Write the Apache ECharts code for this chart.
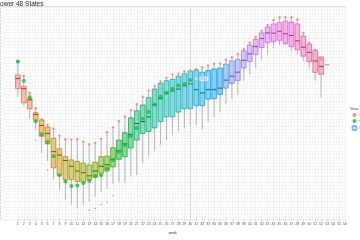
<!DOCTYPE html>
<html><head><meta charset="utf-8">
<script src="https://cdn.jsdelivr.net/npm/echarts@6/dist/echarts.min.js"></script>
<style>html,body{margin:0;padding:0;background:#fff}#c{width:360px;height:240px}</style>
</head><body><div id="c"></div>
<script>
// ---- data (Bcf) ----
const weeks   = [1,2,3,4,5,6,7,8,9,10,11,12,13,14,15,16,17,18,19,20,21,22,23,24,25,26,27,28,29,30,31,32,33,34,35,36,37,38,39,40,41,42,43,44,45,46,47,48,49,50,51,52,53];
const lowW    = [2765,2622,2408,2240,1857,1734,1448,1275,1117,1040,979,1040,1091,1168,1244,1295,1371,1397,1387,1489,1509,1704,1815,1898,1999,2071,2148,2209,2255,2301,2316,2240,2367,2443,2520,2653,2730,2791,3021,3123,3224,3362,3439,3541,3592,3583,3500,3439,3338,3224,3021,2750,3276];
const q1      = [2894,2668,2572,2388,2132,2010,1627,1509,1439,1439,1408,1397,1439,1474,1540,1576,1642,1765,1806,1944,2071,2178,2209,2266,2367,2443,2443,2520,2572,2572,2622,2622,2725,2734,2802,2903,2979,3021,3224,3327,3439,3552,3629,3644,3668,3618,3567,3515,3414,3327,3154,3123,3276];
const median  = [3056,2894,2714,2480,2305,2178,1887,1831,1745,1653,1576,1550,1500,1576,1653,1678,1765,1903,2010,2163,2336,2367,2443,2633,2734,2826,2857,2887,2940,2970,2878,2826,2878,2878,2903,3031,3093,3158,3347,3450,3567,3695,3786,3782,3812,3771,3745,3659,3557,3475,3338,3250,3276];
const q3      = [3113,2929,2734,2511,2393,2281,2102,1933,1806,1754,1730,1704,1673,1719,1806,1815,1949,2071,2189,2428,2541,2633,2750,2887,2979,3021,3041,3093,3132,3174,3194,3158,3184,3209,3224,3286,3338,3362,3500,3592,3684,3786,3878,3929,3950,3975,3959,3929,3736,3607,3506,3403,3276];
const highW   = [3327,3097,2826,2581,2400,2309,2247,2140,2079,2071,2079,2041,2002,2018,2086,2194,2270,2370,2446,2546,2645,2760,2860,2936,3005,3063,3120,3128,3166,3181,3201,3232,3263,3289,3293,3354,3393,3446,3526,3630,3717,3817,3906,3986,4031,4031,4031,3998,3779,3626,3511,3403,3276];
const redPts  = [3327,3097,2826,2581,2405,2315,2255,2143,2086,2076,2086,2045,2005,2025,2091,2198,2275,2373,2449,2551,2648,2765,2863,2939,3010,3067,3123,3132,3170,3185,3204,3235,3266,3292,3296,3358,3396,3449,3531,3633,3721,3822,3909,3990,4036,4036,4036,4001,3782,3629,3515,3373];
const greenWeeks = [1,2,3,4,5,6,7,8,9,10,11,12,13,14,15,16,17,18,19,20,21,22,23,24,25,26,27,28,29,30];
const greenPts   = [3327,3021,2756,2373,2163,2041,1815,1509,1408,1336,1347,1387,1423,1500,1509,1616,1754,1887,1995,2137,2260,2413,2520,2642,2765,2826,2894,2944,2970,3031];
const outWeeks = [4,6,13,14,15,16,17];
const outVals  = [2071,1592,949,979,1040,1080,1183];
const labelWeek = 31;
const labelValue = 3051;
const currentWeek = 30;
const tickLabels = [1,2,3,4,5,6,7,8,9,10,11,12,13,14,15,16,17,18,19,20,21,22,23,24,25,26,27,28,29,30,31,32,33,34,35,36,37,38,39,40,41,42,43,44,45,46,47,48,49,50,51,52,53,54,55,56];

// ---- ggplot-style hue palette ----
function hcl(h, c, l) {
  const hr = h * Math.PI / 180;
  const U = c * Math.cos(hr), V = c * Math.sin(hr);
  const Y = l > 8 ? Math.pow((l + 16) / 116, 3) : l / 903.3;
  const Xn = 0.95047, Yn = 1, Zn = 1.08883;
  const un = 4 * Xn / (Xn + 15 * Yn + 3 * Zn), vn = 9 * Yn / (Xn + 15 * Yn + 3 * Zn);
  const u = U / (13 * l) + un, v = V / (13 * l) + vn;
  const X = Y * 9 * u / (4 * v), Z = Y * (12 - 3 * u - 20 * v) / (4 * v);
  const lin = [3.2404542*X - 1.5371385*Y - 0.4985314*Z, -0.9692660*X + 1.8760108*Y + 0.0415560*Z, 0.0556434*X - 0.2040259*Y + 1.0572252*Z];
  return lin.map(t => { t = Math.max(0, Math.min(1, t)); const g = t <= 0.0031308 ? 12.92*t : 1.055*Math.pow(t, 1/2.4) - 0.055; return Math.round(g*255); });
}
const nW = weeks.length;
const hues = weeks.map((w, i) => hcl(15 + i * 360 / nW, 100, 65));
const rgba = (c, a) => `rgba(${c[0]},${c[1]},${c[2]},${a})`;
const dark = (c, f) => `rgb(${Math.round(c[0]*f)},${Math.round(c[1]*f)},${Math.round(c[2]*f)})`;

const boxData = weeks.map((w, i) => [w, lowW[i], q1[i], median[i], q3[i], highW[i]]);
const redData = redPts.map((v, i) => [weeks[i], v]);
const greenData = greenPts.map((v, i) => [greenWeeks[i], v]);
const outData = outVals.map((v, i) => [outWeeks[i], v]);

function renderBox(params, api) {
  const w = api.value(0);
  const i = params.dataIndex;
  const xc = api.coord([w, api.value(3)])[0];
  const yLow = api.coord([w, api.value(1)])[1];
  const yQ1 = api.coord([w, api.value(2)])[1];
  const yMed = api.coord([w, api.value(3)])[1];
  const yQ3 = api.coord([w, api.value(4)])[1];
  const yHigh = api.coord([w, api.value(5)])[1];
  const bw = api.size([1, 0])[0] * 0.78;
  const c = hues[i];
  const single = Math.abs(yQ1 - yQ3) < 0.01;
  const kids = [
    {type:'line', shape:{x1:xc, y1:yHigh, x2:xc, y2:yQ3}, style:{stroke:'#b4b4b4', lineWidth:1}},
    {type:'line', shape:{x1:xc, y1:yQ1, x2:xc, y2:yLow}, style:{stroke:'#b4b4b4', lineWidth:1}}
  ];
  if (!single) kids.push({type:'rect', shape:{x:xc-bw/2, y:yQ3, width:bw, height:yQ1-yQ3}, style:{fill:rgba(c,0.48), stroke:dark(c,0.85), lineWidth:0.7}});
  kids.push({type:'line', shape:{x1:xc-bw/2, y1:yMed, x2:xc+bw/2, y2:yMed}, style:{stroke: single ? '#8a8a8a' : dark(c,0.5), lineWidth:0.9}});
  return {type:'group', children:kids};
}

const chart = echarts.init(document.getElementById('c'), null, {renderer:'canvas'});
chart.setOption({
  animation:false,
  textStyle:{fontFamily:'Liberation Sans, Arial, sans-serif'},
  grid:{left:-1.6, width:347.1, top:7, bottom:11, show:true, borderColor:'#b8b8b8', borderWidth:1, backgroundColor:'#fff'},
  graphic:[
    {type:'text', left:-3.5, top:0.5, style:{text:'Lower 48 States', fontSize:6.5, fill:'#1a1a1a', fontFamily:'Liberation Sans, Arial, sans-serif'}},
    {type:'text', left:350, top:106.5, style:{text:'Year', fontSize:4, fill:'#333'}}
  ],
  legend:{
    orient:'vertical', left:351.5, top:113, itemWidth:4, itemHeight:4, itemGap:2, padding:0,
    textStyle:{fontSize:4, color:'#333', padding:[0,0,0,-2]},
    data:[{name:'Previous', icon:'circle'},{name:'Current', icon:'circle'},{name:'Latest', icon:'roundRect'}]
  },
  xAxis:{
    type:'value', min:-2, max:56.1, interval:1,
    name:'week', nameLocation:'middle', nameGap:7, nameTextStyle:{fontSize:3.5, color:'#333'},
    axisLine:{show:false},
    axisTick:{show:true, length:1.5, lineStyle:{color:'#b3b3b3', width:0.6}, customValues:tickLabels},
    axisLabel:{fontSize:3.6, color:'#555', margin:2.5, customValues:tickLabels, showMinLabel:true, showMaxLabel:true, hideOverlap:false},
    splitLine:{show:true, lineStyle:{color:'#f1f1f1', width:1}},
    minorTick:{show:false, splitNumber:2},
    minorSplitLine:{show:true, lineStyle:{color:'#f7f7f7', width:1}}
  },
  yAxis:{
    type:'value', min:800, max:4200, interval:100,
    axisLine:{show:false}, axisTick:{show:false}, axisLabel:{show:false},
    splitLine:{show:true, lineStyle:{color:'#f1f1f1', width:1}},
    minorTick:{show:false, splitNumber:2},
    minorSplitLine:{show:true, lineStyle:{color:'#f7f7f7', width:1}}
  },
  series:[
    {type:'custom', name:'boxes', renderItem:renderBox, data:boxData, encode:{x:0, y:[1,2,3,4,5]}, z:2,
     markLine:{silent:true, symbol:'none', label:{show:false}, lineStyle:{color:'#bdbdbd', type:[1.5,1], width:0.8}, data:[{xAxis:currentWeek}]}},
    {type:'scatter', name:'outliers', data:outData, symbolSize:1.4, itemStyle:{color:'#555', opacity:0.6}, z:3},
    {type:'scatter', name:'Previous', data:redData, symbolSize:2.4, itemStyle:{color:'#f77f76', opacity:0.85}, z:4},
    {type:'scatter', name:'Current', data:greenData, symbolSize:4, itemStyle:{color:'#0cc13e'}, z:5},
    {type:'scatter', name:'Latest', data:[[labelWeek, labelValue]], symbol:'roundRect', symbolSize:[4,4],
     itemStyle:{color:'#cddffb', borderColor:'#7aa6ee', borderWidth:0.6}, z:6,
     label:{show:true, position:'right', distance:1, fontSize:3, color:'#3a6fd0', formatter:() => String(labelValue),
            backgroundColor:'#fff', borderColor:'#a9c4f2', borderWidth:0.5, padding:[0.5,1], borderRadius:0.5}}
  ]
});
</script></body></html>
